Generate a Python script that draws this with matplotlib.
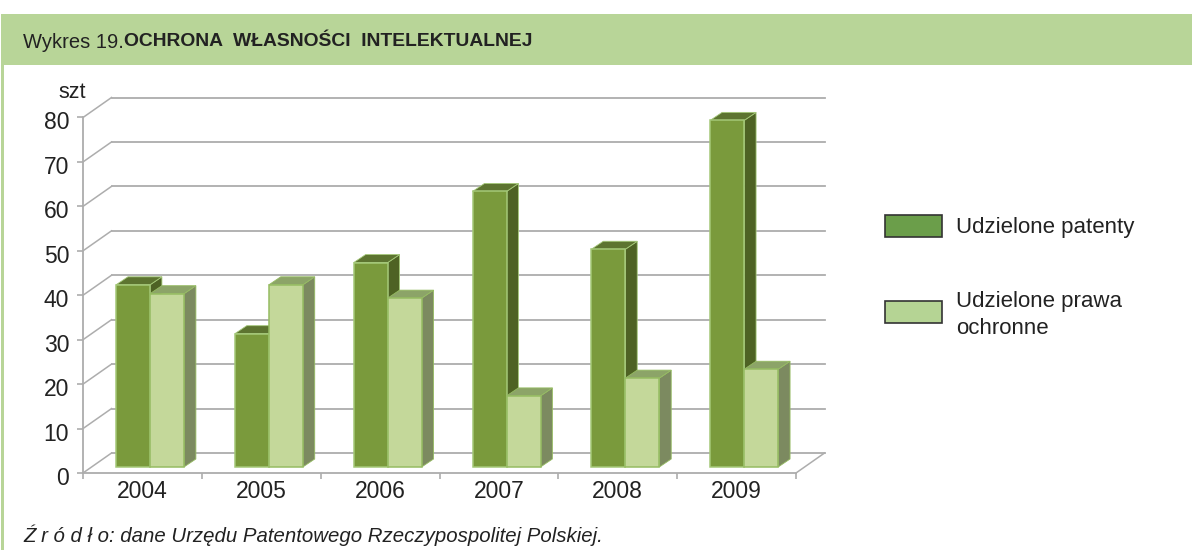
import matplotlib
matplotlib.use('Agg')
import matplotlib.pyplot as plt
from matplotlib.patches import Polygon, Rectangle
from matplotlib.transforms import ScaledTranslation

years = ['2004', '2005', '2006', '2007', '2008', '2009']
patenty = [41, 30, 46, 62, 49, 78]
prawa = [39, 41, 38, 16, 20, 22]
y_ticks = [0, 10, 20, 30, 40, 50, 60, 70, 80]
legend_labels = ['Udzielone patenty', 'Udzielone prawa\nochronne']

W, H = 1192, 550

plt.rcParams['font.family'] = ['Liberation Sans', 'DejaVu Sans']

fig = plt.figure(figsize=(W / 100, H / 100), dpi=100, facecolor='white')

# page furniture, in pixels
bg = fig.add_axes([0, 0, 1, 1])
bg.set_xlim(0, W)
bg.set_ylim(H, 0)
bg.axis('off')
bg.add_patch(Rectangle((1, 14), W, 51, fc='#B8D598', ec='none'))
bg.add_patch(Rectangle((1, 14), 3, H, fc='#B8D598', ec='none'))
bg.text(23, 42, 'Wykres 19.', fontsize=14.5, va='center', color='#222222')
bg.text(124, 42, 'OCHRONA  WŁASNOŚCI  INTELEKTUALNEJ', fontsize=13.9, fontweight='bold',
        va='center', color='#222222')
bg.text(58, 92, 'szt', fontsize=15.5, va='center', color='#222222')
bg.text(23, 535, 'Ź r ó d ł o: dane Urzędu Patentowego Rzeczypospolitej Polskiej.', fontsize=14.7,
        style='italic', va='center', color='#222222')

# legend
for yb, fc, label, ty in zip([215, 301], ['#6B9E4A', '#B5D494'], legend_labels, [227, 315]):
    bg.add_patch(Rectangle((885, yb), 57, 22, fc=fc, ec='#333333', lw=1.2))
    bg.text(956, ty, label, fontsize=16, va='center', color='#222222', linespacing=1.39)

# chart, front plane of the box
ax = fig.add_axes([83 / W, 1 - 473 / H, 713 / W, 355.5 / H])
ax.set_xlim(0, 6)
ax.set_ylim(0, 80)
ax.patch.set_alpha(0)

wall_dx, wall_dy = 0.24, 4.5
bar_dx, bar_dy = 0.1, 1.8
floor = 1.35
bar_w = 0.286
start = 0.278
gray = '#ADADAD'

for v in y_ticks:
    ax.plot([wall_dx, 6 + wall_dx], [v + wall_dy, v + wall_dy], color=gray, lw=1.3, clip_on=False, zorder=1)
    ax.plot([0, wall_dx], [v, v + wall_dy], color=gray, lw=1.1, clip_on=False, zorder=1)
ax.plot([6, 6 + wall_dx], [0, wall_dy], color=gray, lw=1.1, clip_on=False, zorder=1)


def bar3d(x, val, front, top, side, edge, z):
    x2 = x + bar_w
    v = val + floor
    ax.add_patch(Polygon([(x2, floor), (x2 + bar_dx, floor + bar_dy), (x2 + bar_dx, v + bar_dy), (x2, v)],
                         fc=side, ec=edge, lw=0.6, clip_on=False, zorder=z))
    ax.add_patch(Polygon([(x, v), (x + bar_dx, v + bar_dy), (x2 + bar_dx, v + bar_dy), (x2, v)],
                         fc=top, ec=edge, lw=0.6, clip_on=False, zorder=z))
    ax.add_patch(Rectangle((x, floor), bar_w, val, fc=front, ec=edge, lw=1.1, clip_on=False, zorder=z + 0.1))


for i in range(len(years)):
    bar3d(i + start, patenty[i], '#7A9A3C', '#5D7430', '#4E6224', '#A4C878', 3)
    bar3d(i + start + bar_w, prawa[i], '#C4D89A', '#8CA468', '#7C8A60', '#96BC62', 4)

for s in ['top', 'right']:
    ax.spines[s].set_visible(False)
for s in ['left', 'bottom']:
    ax.spines[s].set_color(gray)
    ax.spines[s].set_linewidth(1.3)

ax.set_yticks(y_ticks)
ax.set_xticks(range(7))
ax.set_xticklabels([])
ax.set_xticks([i + 0.5 for i in range(6)], minor=True)
ax.set_xticklabels(years, minor=True)
ax.tick_params(axis='x', which='major', length=4, color=gray, width=1.2)
ax.tick_params(axis='x', which='minor', length=0, labelsize=16.5, pad=5, labelcolor='#222222')
ax.tick_params(axis='y', length=4, color=gray, width=1.2, labelsize=16.5, pad=6, labelcolor='#222222')

# y labels sit a little under their ticks in the original
down = ScaledTranslation(0, -3 / 100, fig.dpi_scale_trans)
for lab in ax.get_yticklabels():
    lab.set_transform(lab.get_transform() + down)

fig.savefig('out.png', dpi=100)
